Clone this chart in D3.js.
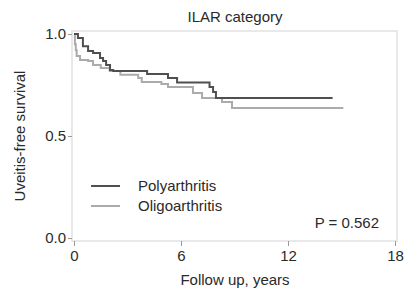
<!DOCTYPE html>
<html lang="en">
<head>
<meta charset="UTF-8">
<title>ILAR category</title>
<script src="https://cdn.jsdelivr.net/npm/d3@7"></script>
<style>
  body { margin: 0; background: #fff; }
  svg { font-family: "Liberation Sans", Arial, sans-serif; }
  .tick text { font-size: 15px; fill: #2a2a2a; }
  .tick line { stroke: #999; }
</style>
</head>
<body>
<svg id="chart" width="414" height="293"></svg>
<script>
// step data: [time in years, survival after step]
const polyTimes = [0, 0.22, 0.5, 0.79, 1.07, 1.46, 1.63, 1.8, 2.02, 2.2, 4.1, 5.27, 5.78, 7.6, 7.8, 7.96, 14.5];
const polySurv  = [1, 0.98, 0.94, 0.917, 0.907, 0.882, 0.868, 0.848, 0.824, 0.819, 0.804, 0.784, 0.762, 0.74, 0.716, 0.686, 0.686];
const oligoTimes = [0, 0.05, 0.1, 0.15, 0.34, 0.79, 1.07, 1.5, 2.0, 2.6, 3.6, 3.8, 4.9, 5.27, 6.67, 7.18, 8.3, 8.86, 15.1];
const oligoSurv  = [1, 0.95, 0.92, 0.892, 0.873, 0.868, 0.848, 0.833, 0.819, 0.80, 0.784, 0.765, 0.755, 0.74, 0.711, 0.686, 0.667, 0.637, 0.637];

const groups = ["Polyarthritis", "Oligoarthritis"];
const colors = ["#4f4f4f", "#ababab"];
const xTicks = [0, 6, 12, 18];
const yTicks = [0, 0.5, 1];

const svg = d3.select("#chart");
const frame = {left: 72, right: 397, top: 31, bottom: 241};

const x = d3.scaleLinear().domain([0, 18]).range([74, 395]);
const y = d3.scaleLinear().domain([0, 1]).range([238, 34]);

// frame
svg.append("rect")
  .attr("x", frame.left).attr("y", frame.top)
  .attr("width", frame.right - frame.left).attr("height", frame.bottom - frame.top)
  .attr("fill", "none").attr("stroke", "#e2e2e2").attr("stroke-width", 1.5);

svg.append("g").attr("transform", `translate(0,${frame.bottom})`)
  .call(d3.axisBottom(x).tickValues(xTicks).tickSize(5).tickPadding(4).tickFormat(d3.format("d")))
  .call(g => g.select(".domain").remove());

svg.append("g").attr("transform", `translate(${frame.left},0)`)
  .call(d3.axisLeft(y).tickValues(yTicks).tickSize(4).tickPadding(2).tickFormat(d3.format(".1f")))
  .call(g => g.select(".domain").remove());

const line = d3.line().x(d => x(d[0])).y(d => y(d[1])).curve(d3.curveStepAfter);
const series = [d3.zip(polyTimes, polySurv), d3.zip(oligoTimes, oligoSurv)];

// gray first so dark is on top
[1, 0].forEach(i => {
  svg.append("path").datum(series[i])
    .attr("fill", "none").attr("stroke", colors[i]).attr("stroke-width", 2)
    .attr("d", line);
});

// legend
groups.forEach((g, i) => {
  const ly = 186 + i * 20;
  svg.append("line").attr("x1", 91).attr("x2", 120).attr("y1", ly).attr("y2", ly)
    .attr("stroke", colors[i]).attr("stroke-width", 2);
  svg.append("text").attr("x", 138).attr("y", ly + 5).attr("font-size", 15).attr("fill", "#2a2a2a").text(g);
});

svg.append("text").attr("x", 379).attr("y", 228).attr("text-anchor", "end")
  .attr("font-size", 15).attr("fill", "#2a2a2a").text("P = 0.562");

svg.append("text").attr("x", 235).attr("y", 22).attr("text-anchor", "middle")
  .attr("font-size", 15).attr("fill", "#2a2a2a").text("ILAR category");

svg.append("text").attr("x", 235).attr("y", 285).attr("text-anchor", "middle")
  .attr("font-size", 15).attr("fill", "#2a2a2a").text("Follow up, years");

svg.append("text").attr("transform", "translate(25,136) rotate(-90)").attr("text-anchor", "middle")
  .attr("font-size", 15).attr("fill", "#2a2a2a").text("Uveitis-free survival");
</script>
</body>
</html>
